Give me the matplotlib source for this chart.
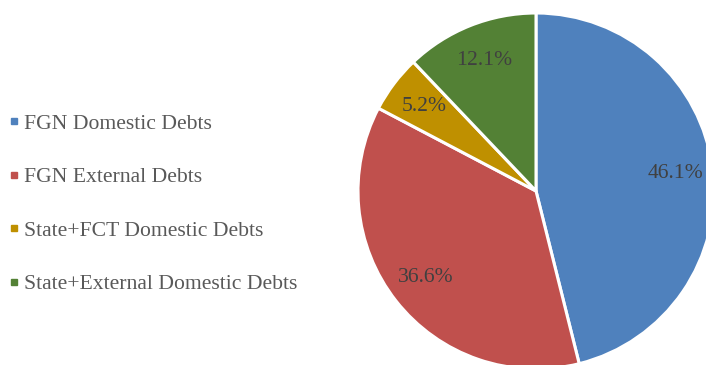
import matplotlib
matplotlib.use("Agg")
import matplotlib.pyplot as plt
from matplotlib.lines import Line2D

categories = ["FGN Domestic Debts", "FGN External Debts",
              "State+FCT Domestic Debts", "State+External Domestic Debts"]
shares = [46.1, 36.6, 5.2, 12.1]
colors = ["#4F81BD", "#C0504D", "#BF9000", "#538135"]

FONT = ["Liberation Serif", "DejaVu Serif"]

W, H = 706, 365
fig = plt.figure(figsize=(W / 100, H / 100), dpi=100)
ax = fig.add_axes([0, 0, 1, 1])

# Pie in pixel-like data units, starting at 12 o'clock and running clockwise
wedges, texts, autotexts = ax.pie(
    shares, colors=colors, startangle=90, counterclock=False,
    center=(536, H - 191), radius=178,
    autopct="%.1f%%", pctdistance=0.79,
    wedgeprops=dict(edgecolor="white", linewidth=2.2),
    textprops=dict(family=FONT, fontsize=15.6, color="#404040"),
)

ax.set_xlim(0, W)
ax.set_ylim(0, H)
ax.set_aspect("equal")
ax.axis("off")

handles = [Line2D([], [], marker="s", linestyle="none", color=c,
                  markersize=4.2) for c in colors]
ax.legend(handles, categories, loc="center left",
          bbox_to_anchor=(10 / W, 1 - 204 / H), bbox_transform=fig.transFigure,
          frameon=False, borderpad=0, borderaxespad=0,
          handlelength=0.35, handletextpad=0.3, labelspacing=1.54,
          prop=dict(family=FONT, size=15.6), labelcolor="#595959")

fig.savefig("out.png", dpi=100, facecolor="white")
